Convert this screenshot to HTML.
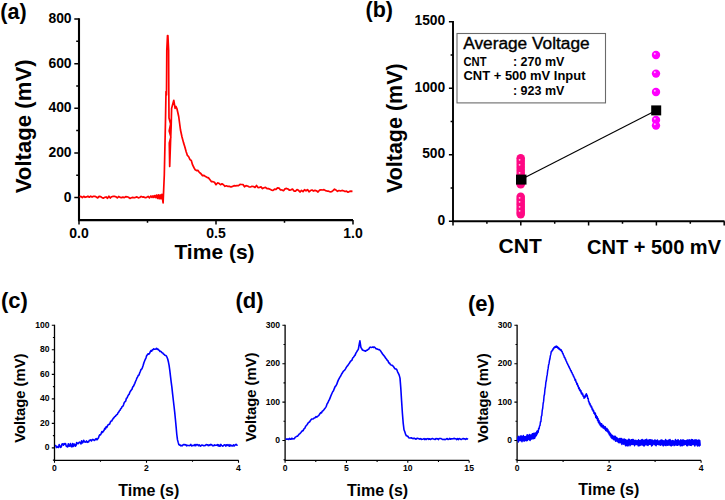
<!DOCTYPE html>
<html><head><meta charset="utf-8"><style>
html,body{margin:0;padding:0;background:#fff;width:725px;height:500px;overflow:hidden}
svg{position:absolute;left:0;top:0;display:block}
text{font-family:"Liberation Sans",sans-serif}
.b{font-weight:bold}
</style></head><body>
<svg width="725" height="500" viewBox="0 0 725 500">
<path d="M79,18.35 V220.1 H353" fill="none" stroke="#000" stroke-width="2.1"/>
<path d="M79,19.05h-4.7M79,41.36h-2.8M79,63.66h-4.7M79,85.97h-2.8M79,108.28h-4.7M79,130.58h-2.8M79,152.89h-4.7M79,175.19h-2.8M79,197.5h-4.7M79,220.1v4.5M147.5,220.1v2.6M216,220.1v4.5M284.5,220.1v2.6M353,220.1v4.5" fill="none" stroke="#000" stroke-width="1.5"/>
<text x="71.6" y="23.15" class="b" font-size="13.9" text-anchor="end">800</text>
<text x="71.6" y="67.76" class="b" font-size="13.9" text-anchor="end">600</text>
<text x="71.6" y="112.38" class="b" font-size="13.9" text-anchor="end">400</text>
<text x="71.6" y="156.99" class="b" font-size="13.9" text-anchor="end">200</text>
<text x="71.6" y="201.6" class="b" font-size="13.9" text-anchor="end">0</text>
<text x="79" y="237.6" class="b" font-size="14" text-anchor="middle">0.0</text>
<text x="216" y="237.6" class="b" font-size="14" text-anchor="middle">0.5</text>
<text x="353" y="237.6" class="b" font-size="14" text-anchor="middle">1.0</text>
<text x="214.5" y="258.7" class="b" font-size="21" text-anchor="middle">Time (s)</text>
<text transform="translate(31,126.3) rotate(-90)" class="b" font-size="22.2" text-anchor="middle">Voltage (mV)</text>
<text x="0.3" y="19.1" class="b" font-size="21.5">(a)</text>
<path d="M79.5,196.81 80.9,196.43 82.3,197.53 83.7,196.26 85.1,197.28 86.5,196.9 87.9,196.23 89.3,197.22 90.7,196.18 92.1,197.05 93.5,196.25 94.9,196.3 96.3,197.03 97.7,197.92 99.1,196.37 100.5,196.59 101.9,197.48 103.3,198.18 104.7,197.37 106.1,196.97 107.5,198.25 108.9,196.2 110.3,197.99 111.7,196.74 113.1,196.42 114.5,196.36 115.9,196.78 117.3,197.9 118.7,196.5 120.1,197.39 121.5,197.63 122.9,197.15 124.3,197.65 125.7,196.69 127.1,196.8 128.5,197.23 129.9,198.39 131.3,197.71 132.7,197.32 134.1,197.78 135.5,197.35 136.9,196.87 138.3,197.82 139.7,197.47 141.1,196.41 142.5,197.11 143.9,196.97 145.3,197.71 146.7,197.36 148.1,196.36 149.5,197.85 150.9,195.92 152,197.45 152.9,195.84 153.8,197.47 154.7,195.56 155.6,197.52 156.5,195.12 157.4,198.37 158.3,194.92 159.2,198.74 160.1,194.95 161,198.77 161.9,194.31 163.1,202.9 164.3,175 165.5,120 166,91.5 166.5,95 166.8,50 167.5,35.6 167.9,35.6 168.6,50 168.8,92 169,118 170.6,124 169.2,131 170.9,137 169.3,143 169.7,166.5 170.5,143 171.2,125 171.6,108.4 173.8,100.3 175.1,108.4 176,106.5 176.9,108.5 178.7,116.5 180.5,130 182,137 183.5,142.62 184.8,146.72 186.1,151.45 187.4,155.4 188.7,156.75 190,159.65 191.3,160.52 192.6,164.98 193.9,167.51 195.2,169.82 196.5,170.58 197.8,170.32 199.1,172.03 201,173.75 202.5,175.64 204,175.4 205.5,176.58 207,177.36 208.5,177.92 210,179.69 211.5,181.65 213,181.7 214.5,182.3 216,184.69 217.5,182.94 219,183.29 220.5,184.75 222,183.82 223.5,184.72 225,186.31 226.5,185.79 228,186.42 229.5,186.37 231,186.93 232.5,186.41 234,185.67 235.5,185.85 237,185.6 238.5,185.58 240,184.45 241.5,184.52 243,184.55 244.5,186.74 246,185.66 247.5,185.97 249,186.8 250.5,187.01 252,186.31 253.5,186.48 255,187.48 256.5,185.52 258,187.61 259.5,187.32 261,186.88 262.5,188.64 264,187.76 265.5,187.42 267,188.7 268.5,188.65 270,189.27 271.5,190.08 273,190.34 274.5,189.22 276,189.35 277.5,187.84 279,188.08 280.5,190 282,189.94 283.5,190.73 285,188.86 286.5,188.42 288,189.03 289.5,190.24 291,189.83 292.5,189.05 294,191.06 295.5,191.04 297,189.64 298.5,190.32 300,192.02 301.5,190.42 303,191.63 304.5,189.64 306,190.78 307.5,189.59 309,191.84 310.5,190.55 312,190.01 313.5,191.06 315,190.35 316.5,190.76 318,192.03 319.5,190.18 321,189.81 322.5,189.99 324,189.59 325.5,190.68 327,191.04 328.5,191.2 330,191.81 331.5,191.68 333,190.63 334.5,189.22 336,190.1 337.5,191.28 339,190.49 340.5,191.01 342,190.42 343.5,190.75 345,191.52 346.5,191.08 348,192.23 349.5,191.44 351,191.2 352.5,191.33" fill="none" stroke="#ff0000" stroke-width="1.7" stroke-linejoin="round"/>
<path d="M453,21.1 V221.25 H724.5" fill="none" stroke="#000" stroke-width="1.9"/>
<path d="M453,21.8h-4.1M453,55.04h-2.4M453,88.28h-4.1M453,121.53h-2.4M453,154.77h-4.1M453,188.01h-2.4M453,221.25h-4.1M453,221.25v4.2M486.9,221.25v2.4M520.8,221.25v4.2M554.7,221.25v2.4M588.6,221.25v4.2M622.5,221.25v2.4M656.4,221.25v4.2M690.3,221.25v2.4M724.2,221.25v4.2" fill="none" stroke="#000" stroke-width="1.5"/>
<text x="445.2" y="25.4" class="b" font-size="13.8" text-anchor="end">1500</text>
<text x="445.2" y="91.88" class="b" font-size="13.8" text-anchor="end">1000</text>
<text x="445.2" y="158.37" class="b" font-size="13.8" text-anchor="end">500</text>
<text x="445.2" y="224.85" class="b" font-size="13.8" text-anchor="end">0</text>
<text x="520.2" y="253.3" class="b" font-size="21" text-anchor="middle">CNT</text>
<text x="654" y="253.6" class="b" font-size="21" text-anchor="middle" textLength="134" lengthAdjust="spacingAndGlyphs">CNT + 500 mV</text>
<text transform="translate(401.6,128.2) rotate(-90)" class="b" font-size="21.5" text-anchor="middle">Voltage (mV)</text>
<text x="365.5" y="16.6" class="b" font-size="21.5">(b)</text>
<rect x="457" y="33.5" width="148.5" height="69.4" fill="#fff" stroke="#6a6a6a" stroke-width="1.1"/>
<text x="463.2" y="49.4" font-size="15.8" stroke="#000" stroke-width="0.35" textLength="126.5" lengthAdjust="spacingAndGlyphs">Average Voltage</text>
<text x="463.5" y="65.5" class="b" font-size="12" textLength="23" lengthAdjust="spacingAndGlyphs">CNT</text>
<text x="512.9" y="65.5" class="b" font-size="12" textLength="51.5" lengthAdjust="spacingAndGlyphs">: 270 mV</text>
<text x="463.5" y="79.8" class="b" font-size="12" textLength="122" lengthAdjust="spacingAndGlyphs">CNT + 500 mV Input</text>
<text x="512.9" y="95" class="b" font-size="12" textLength="51.5" lengthAdjust="spacingAndGlyphs">: 923 mV</text>
<line x1="521" y1="179.6" x2="656" y2="110.4" stroke="#000" stroke-width="1.1"/>
<circle cx="520.7" cy="158.3" r="4.3" fill="#ff0884"/>
<circle cx="520.7" cy="161" r="4.3" fill="#ff0884"/>
<circle cx="520.7" cy="164" r="4.3" fill="#ff0884"/>
<circle cx="520.7" cy="167" r="4.3" fill="#ff0884"/>
<circle cx="520.7" cy="170" r="4.3" fill="#ff0884"/>
<circle cx="520.7" cy="173" r="4.3" fill="#ff0884"/>
<circle cx="520.7" cy="176" r="4.3" fill="#ff0884"/>
<circle cx="520.7" cy="179" r="4.3" fill="#ff0884"/>
<circle cx="520.7" cy="182" r="4.3" fill="#ff0884"/>
<circle cx="520.7" cy="184.3" r="4.3" fill="#ff0884"/>
<circle cx="520.7" cy="196.9" r="4.3" fill="#ff0884"/>
<circle cx="520.7" cy="199.5" r="4.3" fill="#ff0884"/>
<circle cx="520.7" cy="202" r="4.3" fill="#ff0884"/>
<circle cx="520.7" cy="204.5" r="4.3" fill="#ff0884"/>
<circle cx="520.7" cy="207" r="4.3" fill="#ff0884"/>
<circle cx="520.7" cy="209.5" r="4.3" fill="#ff0884"/>
<circle cx="520.7" cy="212" r="4.3" fill="#ff0884"/>
<circle cx="520.7" cy="214.1" r="4.3" fill="#ff0884"/>
<circle cx="519.6" cy="159.8" r="0.9" fill="#ffc0e0"/>
<circle cx="519.6" cy="164.8" r="0.9" fill="#ffc0e0"/>
<circle cx="519.6" cy="172.8" r="0.9" fill="#ffc0e0"/>
<circle cx="519.6" cy="182.8" r="0.9" fill="#ffc0e0"/>
<circle cx="519.6" cy="197.8" r="0.9" fill="#ffc0e0"/>
<circle cx="519.6" cy="201.8" r="0.9" fill="#ffc0e0"/>
<circle cx="519.6" cy="206.8" r="0.9" fill="#ffc0e0"/>
<circle cx="519.6" cy="210.8" r="0.9" fill="#ffc0e0"/>
<circle cx="656" cy="55" r="4.2" fill="#ff00ff"/>
<circle cx="654.8" cy="53.7" r="1" fill="#ffb0ff"/>
<circle cx="656" cy="73.6" r="4.2" fill="#ff00ff"/>
<circle cx="654.8" cy="72.3" r="1" fill="#ffb0ff"/>
<circle cx="656" cy="92" r="4.2" fill="#ff00ff"/>
<circle cx="654.8" cy="90.7" r="1" fill="#ffb0ff"/>
<circle cx="656" cy="120" r="4.2" fill="#ff00ff"/>
<circle cx="654.8" cy="118.7" r="1" fill="#ffb0ff"/>
<circle cx="656" cy="125.6" r="4.2" fill="#ff00ff"/>
<circle cx="654.8" cy="124.3" r="1" fill="#ffb0ff"/>
<rect x="516" y="174.6" width="10.5" height="10" fill="#000"/>
<rect x="651.2" y="105.4" width="10" height="10" fill="#000"/>
<path d="M54.5,324.8 V460.3 H238.6" fill="none" stroke="#000" stroke-width="1.3"/>
<path d="M54.5,447.9h-2.7M54.5,423.38h-2.7M54.5,398.86h-2.7M54.5,374.34h-2.7M54.5,349.82h-2.7M54.5,325.3h-2.7M54.5,460.16h-1.6M54.5,435.64h-1.6M54.5,411.12h-1.6M54.5,386.6h-1.6M54.5,362.08h-1.6M54.5,337.56h-1.6M54.5,460.3v2.4M146.5,460.3v2.4M238.5,460.3v2.4M100.5,460.3v1.5M192.5,460.3v1.5" fill="none" stroke="#000" stroke-width="1.1"/>
<text x="49.5" y="450.4" class="b" font-size="8.6" text-anchor="end">0</text>
<text x="49.5" y="425.88" class="b" font-size="8.6" text-anchor="end">20</text>
<text x="49.5" y="401.36" class="b" font-size="8.6" text-anchor="end">40</text>
<text x="49.5" y="376.84" class="b" font-size="8.6" text-anchor="end">60</text>
<text x="49.5" y="352.32" class="b" font-size="8.6" text-anchor="end">80</text>
<text x="49.5" y="327.8" class="b" font-size="8.6" text-anchor="end">100</text>
<text x="54.5" y="470.9" class="b" font-size="8.6" text-anchor="middle">0</text>
<text x="146.5" y="470.9" class="b" font-size="8.6" text-anchor="middle">2</text>
<text x="238.5" y="470.9" class="b" font-size="8.6" text-anchor="middle">4</text>
<text x="148.8" y="495.8" class="b" font-size="16" text-anchor="middle">Time (s)</text>
<text transform="translate(24.5,398.2) rotate(-90)" class="b" font-size="14.8" text-anchor="middle">Voltage (mV)</text>
<text x="1" y="307.5" class="b" font-size="22">(c)</text>
<path d="M55,445.84 55.7,445.58 56.4,447.51 57.1,446.47 57.8,447.19 58.5,447.44 59.2,444.55 59.9,445.79 60.6,447.38 61.3,446.92 62,443.94 62.7,443.85 63.4,445.18 64.1,443.6 64.8,444.28 65.5,443.56 66.2,446.04 66.9,446.5 67.6,446.95 68.3,443.81 69,446.14 69.7,445.88 70.4,443.62 71.1,446.6 71.8,446.82 72.5,443.55 73.2,446.49 73.9,444.03 74.6,444.27 75.3,446.25 76,445.46 76.7,442.51 77.4,443.51 78.1,443.73 78.8,442.85 79.5,442.12 80.2,442.49 80.9,444.01 81.6,440.88 82.3,442.95 83,442.3 83.7,440.35 84.4,441.49 85.1,442.25 85.8,441.87 86.5,440.89 87.2,442.37 87.9,441.84 88.6,442 89.3,440.26 90,440.38 90.7,439.8 91.4,440.95 92.1,439.86 92.8,439.43 93.5,439.79 94.2,440.49 94.9,440.15 95.6,438.97 96.3,438.59 97,439.8 97.7,438.88 98.4,438.06 99.1,435.91 99.8,434.8 100.5,434.89 101.2,433.37 101.9,431.68 102.6,432.39 103.3,431.03 104,430.51 104.7,428.4 105.4,428.97 106.1,426.74 106.8,427.35 107.5,425.8 108.2,424.78 108.9,424.35 109.6,424.2 110.3,422.2 111,421.13 111.7,421.03 112.4,419.7 113.1,418.65 113.8,417.92 114.5,416.91 115.2,416.36 115.9,415.63 116.6,414.68 117.3,414.57 118,412.79 118.7,412.23 119.4,410.72 120.1,410.09 120.8,408.57 121.5,408.05 122.2,406.43 122.9,406.32 123.6,404.59 124.3,402.54 125,401.65 125.7,401.08 126.4,398.19 127.1,398.07 127.8,396.05 128.5,394.88 129.2,394.19 129.9,392.11 130.6,391.02 131.3,390.05 132,389.29 132.7,386.85 133.4,386.44 134.1,384.87 134.8,383.34 135.5,381.53 136.2,380.03 136.9,378.1 137.6,376.83 138.3,375.33 139,375.13 139.7,372.86 140.4,371.29 141.1,369.4 141.8,369.01 142.5,367.32 143.2,365.21 143.9,362.76 144.6,360.94 145.3,359.28 146,357.83 146.7,355.53 147.4,354.86 148.1,353.75 148.8,354.23 149.5,353.47 150.2,351.92 150.9,350.6 151.6,351.27 152.3,349.86 153,349.71 153.7,348.84 154.4,349.29 155.1,349.22 155.8,349.04 156.5,348.26 157.2,349.38 157.9,349.05 158.6,350.08 159.3,350.34 160,351.46 160.7,351.39 161.4,351.9 162.1,352.8 162.8,353.06 163.5,354.09 164.2,354.39 164.9,355.18 165.6,355.41 166.3,355.91 167,357.25 167.7,359.04 168.4,361.8 169.1,365.3 169.8,370.44 170.5,376.43 171.2,382.03 171.9,387.32 172.6,393.86 173.3,400.03 174,406.01 174.7,412.21 175.4,419.29 176.1,426.58 176.8,434.51 177.5,439.89 178.2,442.38 178.9,444.66 179.6,445.1 180.3,445.17 181,445.84 181.7,445.58 182.4,445.65 183.1,444.81 183.8,444.46 184.5,444.64 185.2,445.05 185.9,444.59 186.6,445.9 187.3,445.41 188,445.53 188.7,445.53 189.4,445.63 190.1,445.28 190.8,444.41 191.5,445.84 192.2,445.75 192.9,445.31 193.6,445.36 194.3,445.59 195,444.52 195.7,445.73 196.4,444.85 197.1,444.53 197.8,444.88 198.5,445.71 199.2,444.77 199.9,445.73 200.6,446.16 201.3,445.29 202,445.09 202.7,445.26 203.4,445.63 204.1,445.78 204.8,445.51 205.5,445.56 206.2,444.54 206.9,444.67 207.6,444.86 208.3,445.74 209,444.95 209.7,445.42 210.4,444.42 211.1,444.51 211.8,444.88 212.5,445.61 213.2,445.65 213.9,445.62 214.6,444.92 215.3,445.33 216,445.24 216.7,445.24 217.4,444.61 218.1,446.01 218.8,444.76 219.5,446.16 220.2,446.09 220.9,444.43 221.6,445.23 222.3,445.88 223,446.14 223.7,445.21 224.4,444.88 225.1,444.78 225.8,446.1 226.5,444.78 227.2,445.45 227.9,444.66 228.6,445.34 229.3,446.11 230,444.64 230.7,445.88 231.4,445.32 232.1,446 232.8,445.67 233.5,444.82 234.2,446.02 234.9,445.28 235.6,444.44 236.3,444.41 237,445.29 237.7,445.21" fill="none" stroke="#0000ff" stroke-width="1.6" stroke-linejoin="round"/>
<path d="M285.1,324.8 V460.4 H469.15" fill="none" stroke="#000" stroke-width="1.3"/>
<path d="M285.1,440.5h-2.7M285.1,402.1h-2.7M285.1,363.7h-2.7M285.1,325.3h-2.7M285.1,459.7h-1.6M285.1,421.3h-1.6M285.1,382.9h-1.6M285.1,344.5h-1.6M285.1,460.4v2.4M346.45,460.4v2.4M407.8,460.4v2.4M469.15,460.4v2.4M315.78,460.4v1.5M377.12,460.4v1.5M438.48,460.4v1.5" fill="none" stroke="#000" stroke-width="1.1"/>
<text x="280.1" y="443" class="b" font-size="8.6" text-anchor="end">0</text>
<text x="280.1" y="404.6" class="b" font-size="8.6" text-anchor="end">100</text>
<text x="280.1" y="366.2" class="b" font-size="8.6" text-anchor="end">200</text>
<text x="280.1" y="327.8" class="b" font-size="8.6" text-anchor="end">300</text>
<text x="285.1" y="470.9" class="b" font-size="8.6" text-anchor="middle">0</text>
<text x="346.45" y="470.9" class="b" font-size="8.6" text-anchor="middle">5</text>
<text x="407.8" y="470.9" class="b" font-size="8.6" text-anchor="middle">10</text>
<text x="469.15" y="470.9" class="b" font-size="8.6" text-anchor="middle">15</text>
<text x="377.6" y="495.8" class="b" font-size="16" text-anchor="middle">Time (s)</text>
<text transform="translate(255.9,397.2) rotate(-90)" class="b" font-size="14.8" text-anchor="middle">Voltage (mV)</text>
<text x="235.5" y="307.7" class="b" font-size="22">(d)</text>
<path d="M285.5,439.26 286.3,438.96 287.1,439.1 287.9,438.96 288.7,439.48 289.5,438.36 290.3,439.15 291.1,439.15 291.9,438.18 292.7,439.04 293.5,438.68 294.3,438.8 295.1,437.46 295.9,436.9 296.7,436.25 297.5,436.32 298.3,435.16 299.1,434.22 299.9,433.63 300.7,432.78 301.5,431.84 302.3,430.86 303.1,430.64 303.9,428.88 304.7,428.56 305.5,426.64 306.3,425.56 307.1,424.75 307.9,423.27 308.7,422.39 309.5,421.98 310.3,420.8 311.1,419.61 311.9,418.98 312.7,419 313.5,418.71 314.3,417.92 315.1,417.8 315.9,416.68 316.7,417.18 317.5,416.34 318.3,415.9 319.1,414.97 319.9,413.74 320.7,412.66 321.5,412.91 322.3,411.15 323.1,410.77 323.9,409.81 324.7,408.66 325.5,407.61 326.3,406.31 327.1,403.87 327.9,402.76 328.7,400.75 329.5,399.39 330.3,397.4 331.1,395.33 331.9,393.52 332.7,391.77 333.5,390.81 334.3,388.6 335.1,386.66 335.9,385.89 336.7,384.4 337.5,382.14 338.3,380.17 339.1,378.69 339.9,377.14 340.7,376.01 341.5,374.28 342.3,373.03 343.1,371.62 343.9,370.75 344.7,370.06 345.5,368.83 346.3,367.36 347.1,366.3 347.9,365.36 348.7,364.12 349.5,363.01 350.3,361.61 351.1,360.71 351.9,360.28 352.7,358.01 353.5,357.21 354.3,356.11 355.1,355.13 355.9,353.1 356.7,351.89 357.5,350.53 358.3,349.38 359.3,344 359.9,340.8 360.9,347.3 362.5,350 365.6,351.2 366.4,350.4 367.2,350.28 368,349.42 368.8,349.02 369.6,347.57 370.4,347.15 371.2,347.53 372,347.33 372.8,347.02 373.6,347.44 374.4,347.01 375.2,347.77 376,348.69 376.8,348.85 377.6,349.17 378.4,349.6 379.2,349.49 380,350.25 380.8,351.22 381.6,352.59 382.4,353.7 383.2,354.94 384,355.67 384.8,356.78 385.6,358.12 386.4,358.95 387.2,360.26 388,360.85 388.8,362.94 389.6,363.1 390.4,364.62 391.2,364.98 392,365.26 392.8,365.84 393.6,366.77 394.4,368.01 395.2,368.87 396,368.95 396.8,369.68 397.6,371.79 398.4,373.43 399.2,375.15 400,378.1 400.8,388.12 401.6,401.14 402.4,413.19 403.2,423.1 404,429.74 404.8,431.73 405.6,434.38 406.4,435.79 407.2,435.98 408,436.47 408.8,437.8 409.6,437.97 410.4,437.97 411.2,437.69 412,438.33 412.8,438.61 413.6,438.37 414.4,438.24 415.2,438.8 416,439.18 416.8,438.41 417.6,438.24 418.4,438.67 419.2,438.84 420,439.22 420.8,438.64 421.6,439.36 422.4,439.29 423.2,439.01 424,438.65 424.8,439.56 425.6,438.77 426.4,439.38 427.2,438.68 428,438.67 428.8,439.31 429.6,438.75 430.4,439.54 431.2,438.99 432,438.62 432.8,438.67 433.6,438.9 434.4,439.2 435.2,439.54 436,438.58 436.8,438.87 437.6,438.66 438.4,439.57 439.2,438.57 440,438.46 440.8,438.47 441.6,438.87 442.4,439.48 443.2,439.46 444,439.28 444.8,439.6 445.6,439.52 446.4,438.8 447.2,438.62 448,439.52 448.8,439.3 449.6,438.44 450.4,439.2 451.2,438.85 452,438.85 452.8,438.8 453.6,438.6 454.4,438.4 455.2,438.74 456,438.82 456.8,439.55 457.6,438.55 458.4,439.56 459.2,438.65 460,438.83 460.8,439.39 461.6,439.39 462.4,438.92 463.2,438.46 464,438.97 464.8,438.85 465.6,439.5 466.4,438.63 467.2,438.84 468,439.48" fill="none" stroke="#0000ff" stroke-width="1.6" stroke-linejoin="round"/>
<path d="M517.1,324.8 V460.4 H701.1" fill="none" stroke="#000" stroke-width="1.3"/>
<path d="M517.1,440.5h-2.7M517.1,402.1h-2.7M517.1,363.7h-2.7M517.1,325.3h-2.7M517.1,459.7h-1.6M517.1,421.3h-1.6M517.1,382.9h-1.6M517.1,344.5h-1.6M517.1,460.4v2.4M609.1,460.4v2.4M701.1,460.4v2.4M563.1,460.4v1.5M655.1,460.4v1.5" fill="none" stroke="#000" stroke-width="1.1"/>
<text x="512.1" y="443" class="b" font-size="8.6" text-anchor="end">0</text>
<text x="512.1" y="404.6" class="b" font-size="8.6" text-anchor="end">100</text>
<text x="512.1" y="366.2" class="b" font-size="8.6" text-anchor="end">200</text>
<text x="512.1" y="327.8" class="b" font-size="8.6" text-anchor="end">300</text>
<text x="517.1" y="470.9" class="b" font-size="8.6" text-anchor="middle">0</text>
<text x="609.1" y="470.9" class="b" font-size="8.6" text-anchor="middle">2</text>
<text x="701.1" y="470.9" class="b" font-size="8.6" text-anchor="middle">4</text>
<text x="608.8" y="494.6" class="b" font-size="16" text-anchor="middle">Time (s)</text>
<text transform="translate(487.8,398) rotate(-90)" class="b" font-size="14.8" text-anchor="middle">Voltage (mV)</text>
<text x="468" y="311" class="b" font-size="22">(e)</text>
<path d="M517.5,440.65 517.95,437.06 518.4,441.88 518.85,436.35 519.3,440.47 519.75,437.51 520.2,440.41 520.65,435.9 521.1,440.65 521.55,436.1 522,441.65 522.45,436.7 522.9,440.48 523.35,435.55 523.8,440.97 524.25,436.64 524.7,441.05 525.15,436.44 525.6,440.14 526.05,436.79 526.5,440.78 526.95,435.05 527.4,440.4 527.85,434.83 528.3,439.18 528.75,435.86 529.2,439.77 529.65,434.44 530.1,440.4 530.55,435.24 531,439.02 531.45,434.89 531.9,439.08 532.35,433.68 532.8,438.19 533.25,433.54 533.7,438.77 534.15,433.18 534.6,438.33 535.05,433.33 535.5,436.68 535.95,432.81 536.4,435.46 536.85,431.25 537.3,433.84 537.75,430.64 538.2,432.29 538.65,428.25 539.1,428.94 539.55,426.01 540,425.57 540.45,421.81 540.9,421.65 541.35,416.38 541.8,415.48 542.25,410.36 542.7,408.23 543.15,403.49 543.6,401.42 544.05,396 544.5,394.31 544.95,389.23 545.4,387.2 545.85,382.33 546.3,380.8 546.75,376.81 547.2,374.89 547.65,370.88 548.1,368.7 548.55,365.08 549,363.68 549.45,360.54 549.9,359.08 550.35,355.86 550.8,354.39 551.25,351.57 551.7,351.6 552.15,350.25 552.6,350.46 553.05,348.76 553.5,348.93 553.95,347.47 554.4,347.8 554.85,346.67 555.3,347.36 555.75,346.38 556.2,347.31 556.65,346.13 557.1,347.26 557.55,346.91 558,348.27 558.45,347.56 558.9,349.07 559.35,348.59 559.8,349.63 560.25,349.34 560.7,350.36 561.15,349.82 561.6,351.26 562.05,351.21 562.5,353.17 562.95,353.21 563.4,355.18 563.85,355.39 564.3,357.27 564.75,357.15 565.2,359.02 565.65,359.24 566.1,361.17 566.55,361.35 567,363.07 567.45,363.35 567.9,364.95 568.35,365.17 568.8,366.91 569.25,366.87 569.7,368.61 570.15,368.91 570.6,370.48 571.05,370.52 571.5,372.26 571.95,372.47 572.4,374.1 572.85,374.15 573.3,376.04 573.75,376.26 574.2,377.84 574.65,378.13 575.1,380.35 575.55,379.63 576,382.05 576.45,381.9 576.9,384.4 577.35,383.73 577.8,386.13 578.25,385.77 578.7,388.51 579.15,387.75 579.6,390.21 580.05,389.45 580.5,391.7 580.95,390.72 581.4,393.62 581.85,392.6 582.3,394.71 582.75,393.95 583.2,396.29 583.65,395.96 584.1,398.29 584.55,396.47 585,397.54 585.45,395.13 585.9,396.23 586.35,393.75 586.8,394.94 587.25,395.42 587.7,398.33 588.15,398.19 588.6,401.7 589.05,401.68 589.5,404.07 589.95,403.38 590.4,405.8 590.85,405.32 591.3,407.47 591.75,406.89 592.2,409.65 592.65,408.94 593.1,411.19 593.55,410.32 594,413.28 594.45,412.49 594.9,414.57 595.35,413.16 595.8,417.58 596.25,415.41 596.7,418.46 597.15,416.77 597.6,420.59 598.05,418.59 598.5,422.62 598.95,420.47 599.4,423.97 599.85,422.31 600.3,425.36 600.75,423.49 601.2,426.72 601.65,423.81 602.1,426.8 602.55,425.15 603,427.75 603.45,425.59 603.9,428.47 604.35,426.72 604.8,429.08 605.25,426.86 605.7,430.46 606.15,428.28 606.6,430.87 607.05,428.57 607.5,431.62 607.95,429.76 608.4,432.96 608.85,431.26 609.3,434.66 609.75,432.5 610.2,435.82 610.65,433.79 611.1,437.47 611.55,434.95 612,438.5 612.45,435.39 612.9,438.84 613.35,436.42 613.8,439.69 614.25,436.28 614.7,439.77 615.15,436.36 615.6,441.15 616.05,437.27 616.5,440.88 616.95,437.71 617.4,441.37 617.85,438.73 618.3,442.39 618.75,439.06 619.2,442.75 619.65,438.59 620.1,442.42 620.55,438.59 621,442.82 621.45,438.62 621.9,444.41 622.35,439.25 622.8,443.39 623.25,439.55 623.7,444.26 624.15,439.02 624.6,444.11 625.05,439.46 625.5,445.79 625.95,439.69 626.4,445.47 626.85,440.67 627.3,445.78 627.75,440.13 628.2,445.73 628.65,439.37 629.1,444.3 629.55,439.6 630,445.69 630.45,440.92 630.9,444.65 631.35,439.67 631.8,444.3 632.25,439.42 632.7,444.51 633.15,439.57 633.6,444.28 634.05,440.14 634.5,445.69 634.95,440.68 635.4,444.5 635.85,440.14 636.3,444.61 636.75,440.99 637.2,444.36 637.65,440.77 638.1,445.74 638.55,439.84 639,445.67 639.45,440.77 639.9,445.47 640.35,440.87 640.8,445.01 641.25,439.92 641.7,444.7 642.15,439.5 642.6,445.06 643.05,440.03 643.5,445.66 643.95,440.9 644.4,445.86 644.85,439.95 645.3,444.78 645.75,439.65 646.2,444.55 646.65,439.3 647.1,445.12 647.55,440.45 648,445.46 648.45,440.31 648.9,444.4 649.35,439.76 649.8,444.17 650.25,439.63 650.7,444.55 651.15,439.96 651.6,445.88 652.05,440.06 652.5,445.3 652.95,440.56 653.4,444.1 653.85,441.07 654.3,444.37 654.75,440.01 655.2,444.89 655.65,440.21 656.1,445.73 656.55,440.9 657,444.52 657.45,439.96 657.9,444.16 658.35,441.14 658.8,444.76 659.25,440.96 659.7,444.77 660.15,440.75 660.6,445.19 661.05,440.09 661.5,444.5 661.95,440.03 662.4,445 662.85,440.92 663.3,445.84 663.75,440.73 664.2,444.41 664.65,441 665.1,445.3 665.55,439.59 666,445.57 666.45,440.45 666.9,444.63 667.35,441.16 667.8,445.33 668.25,440.17 668.7,444.79 669.15,440.02 669.6,444.97 670.05,439.49 670.5,445.5 670.95,440.75 671.4,445.81 671.85,441.12 672.3,445.14 672.75,440.47 673.2,444.61 673.65,441.1 674.1,445.59 674.55,441.19 675,445.18 675.45,439.51 675.9,444.45 676.35,440.86 676.8,445.29 677.25,440.3 677.7,445.36 678.15,439.75 678.6,444.51 679.05,440.67 679.5,444.75 679.95,441.15 680.4,445.82 680.85,439.82 681.3,445.51 681.75,441.23 682.2,445.74 682.65,439.89 683.1,445.06 683.55,439.9 684,445.04 684.45,440.84 684.9,444.41 685.35,440.83 685.8,444.3 686.25,440.65 686.7,445.59 687.15,440 687.6,445.77 688.05,439.97 688.5,444.72 688.95,440.26 689.4,445.03 689.85,439.84 690.3,445.19 690.75,440.79 691.2,445.41 691.65,439.53 692.1,444.65 692.55,439.69 693,444.28 693.45,440.81 693.9,444.69 694.35,439.94 694.8,445.98 695.25,439.94 695.7,444.86 696.15,439.7 696.6,444.87 697.05,440.87 697.5,445.92 697.95,440.16 698.4,445.53 698.85,440.1 699.3,446.06 699.75,440.46 700.2,445.81" fill="none" stroke="#0000ff" stroke-width="1.5" stroke-linejoin="round"/>
</svg>
</body></html>
